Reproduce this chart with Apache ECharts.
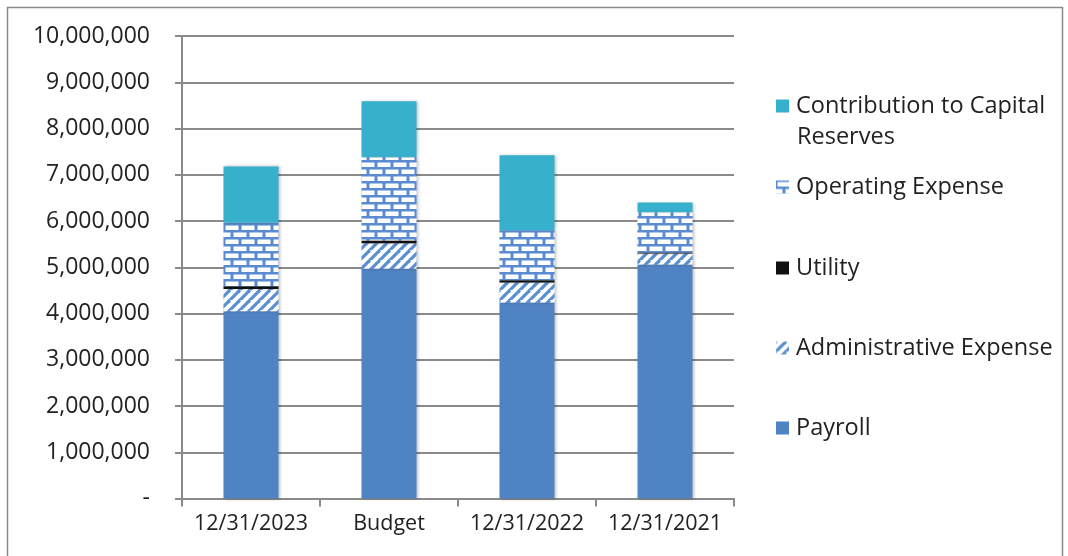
<!DOCTYPE html>
<html>
<head>
<meta charset="utf-8">
<script src="https://cdn.jsdelivr.net/npm/echarts@6/dist/echarts.min.js"></script>
<style>
html,body{margin:0;padding:0;background:#fff;}
#chart{width:1068px;height:556px;}
</style>
</head>
<body>
<div id="chart"></div>
<script>
const categories = ['12/31/2023', 'Budget', '12/31/2022', '12/31/2021'];
const payroll   = [4050000, 4970000, 4240000, 5060000];
const adminExp  = [480000, 550000, 430000, 240000];
const utility   = [60000, 60000, 50000, 20000];
const operating = [1370000, 1800000, 1080000, 870000];
const capital   = [1220000, 1210000, 1620000, 210000];
const seriesNames = ['Payroll', 'Administrative Expense', 'Utility', 'Operating Expense', 'Contribution to Capital Reserves'];
const yTicks = [0, 1000000, 2000000, 3000000, 4000000, 5000000, 6000000, 7000000, 8000000, 9000000, 10000000];

function brickPattern() {
  const c = document.createElement('canvas');
  c.width = 16; c.height = 14;
  const g = c.getContext('2d');
  g.fillStyle = '#5a8bd0'; g.fillRect(0, 0, 16, 14);
  g.fillStyle = '#ffffff';
  g.fillRect(1.5, 1.5, 13, 4.5);
  g.fillRect(-6.5, 8.5, 13, 4.5);
  g.fillRect(9.5, 8.5, 13, 4.5);
  return c;
}
function hatchPattern() {
  const c = document.createElement('canvas');
  c.width = 10; c.height = 10;
  const g = c.getContext('2d');
  g.fillStyle = '#ffffff'; g.fillRect(0, 0, 10, 10);
  g.strokeStyle = '#5b8fd4'; g.lineWidth = 3.2;
  for (let k = -10; k <= 20; k += 10) {
    g.beginPath(); g.moveTo(k - 10, 20); g.lineTo(k + 10, 0); g.stroke();
  }
  return c;
}

const font = '"Open Sans", "Noto Sans", sans-serif';
const textColor = '#222222';
const chart = echarts.init(document.getElementById('chart'), null, {renderer: 'canvas'});

const colors = [
  '#5083c4',
  {image: hatchPattern(), repeat: 'repeat'},
  '#111111',
  {image: brickPattern(), repeat: 'repeat'},
  '#36b0cc'
];
const datasets = [payroll, adminExp, utility, operating, capital];

const series = seriesNames.map((n, i) => ({
  name: n,
  type: 'bar',
  stack: 'total',
  barWidth: 55,
  data: datasets[i],
  itemStyle: {
    color: colors[i],
    shadowColor: 'rgba(0,0,0,0.25)', shadowBlur: 3, shadowOffsetX: 1.5
  },
  emphasis: {disabled: true}
}));

const legendCenters = {
  'Contribution to Capital Reserves': 106,
  'Operating Expense': 187,
  'Utility': 268,
  'Administrative Expense': 348,
  'Payroll': 428
};
const legendFont = 23.5;
const legends = Object.keys(legendCenters).map(n => ({
  data: [n],
  left: 776,
  top: legendCenters[n] - 14,
  padding: 0,
  itemWidth: 13,
  itemHeight: 13,
  itemGap: 0,
  selectedMode: false,
  icon: 'rect',
  formatter: v => v === 'Contribution to Capital Reserves' ? 'Contribution to Capital' : v,
  textStyle: {fontFamily: font, fontSize: legendFont, color: textColor, lineHeight: 28, padding: [0, 0, 0, 2]}
}));

chart.setOption({
  animation: false,
  grid: {left: 182, top: 36, width: 552, height: 462.5, containLabel: false},
  legend: legends,
  graphic: [
    {type: 'rect', shape: {x: 7.5, y: 7.5, width: 1055, height: 570}, style: {fill: 'none', stroke: '#8a8a8a', lineWidth: 1.5}, silent: true},
    {type: 'text', left: 797, top: 125, style: {text: 'Reserves', font: legendFont + 'px ' + font, fill: textColor}, silent: true}
  ],
  xAxis: {
    type: 'category',
    data: categories,
    axisLine: {lineStyle: {color: '#8a8a8a', width: 2}},
    axisTick: {show: true, length: 8, lineStyle: {color: '#8a8a8a', width: 2}, alignWithLabel: false},
    axisLabel: {interval: 0, fontFamily: font, fontSize: 21.5, color: textColor, margin: 14}
  },
  yAxis: {
    type: 'value',
    min: yTicks[0],
    max: yTicks[yTicks.length - 1],
    interval: yTicks[1] - yTicks[0],
    axisLine: {show: true, lineStyle: {color: '#8a8a8a', width: 2}},
    axisTick: {show: true, length: 7, lineStyle: {color: '#8a8a8a', width: 2}},
    splitLine: {lineStyle: {color: '#8a8a8a', width: 2}},
    axisLabel: {
      fontFamily: font, fontSize: 23, color: textColor, margin: 32,
      formatter: v => v === 0 ? '-' : v.toLocaleString('en-US')
    }
  },
  series: series
});
</script>
</body>
</html>
